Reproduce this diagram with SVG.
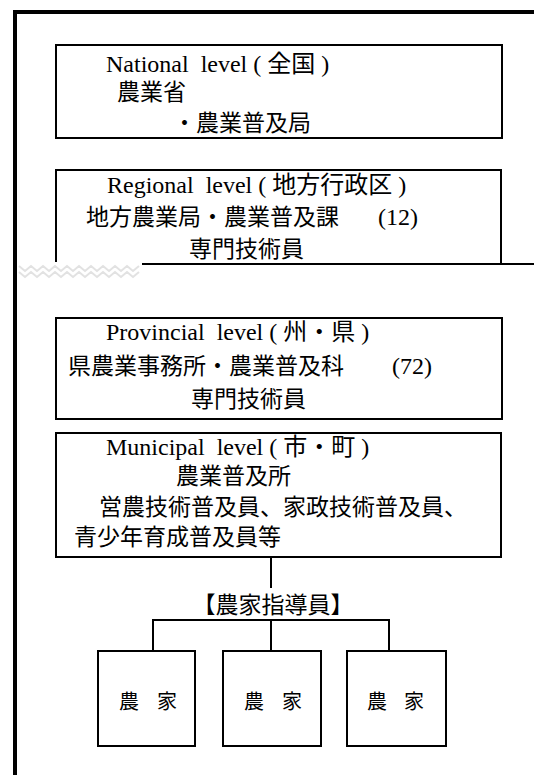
<svg xmlns="http://www.w3.org/2000/svg" width="534" height="775" viewBox="0 0 534 775">
<style>
.frame{stroke:#000;stroke-width:4;fill:none}
.box{stroke:#000;stroke-width:2;fill:#fff}
.conn{stroke:#000;stroke-width:2;fill:none}
.lat{font-family:"Liberation Serif","Noto Sans CJK JP",serif;font-size:24px;fill:#000}
.hc{font-family:"Noto Sans CJK JP",sans-serif;font-size:24px}
.cjk{font-family:"Noto Sans CJK JP",sans-serif;font-size:23px;fill:#000}
.farm{font-family:"Noto Sans CJK JP",sans-serif;font-size:20px;fill:#000}
.tear{stroke:#e2e2e2;stroke-width:2;fill:none}
</style>
<rect width="534" height="775" fill="#fff"/>
<g id="frame">
<line class="frame" x1="13" y1="12" x2="534" y2="12"/>
<line class="frame" x1="15" y1="10" x2="15" y2="775"/>
</g>
<g id="national">
<rect class="box" x="56" y="45" width="446" height="93"/>
<text class="lat" x="106" y="72" xml:space="preserve">National  level ( <tspan class="hc">全国</tspan> )</text>
<text class="cjk" x="117" y="100">農業省</text>
<text class="cjk" x="173" y="131">・農業普及局</text>
</g>
<g id="regional">
<path class="conn" d="M56,262 V170 H501 V264"/>
<line class="conn" x1="142" y1="264" x2="534" y2="264"/>
<path class="tear" d="M19,266 l6,5 l6,-5 l6,5 l6,-5 l6,5 l6,-5 l6,5 l6,-5 l6,5 l6,-5 l6,5 l6,-5 l6,5 l6,-5 l6,5 l6,-5 l6,5 l6,-5 l6,5 l6,-5"/>
<path class="tear" d="M19,272 l6,5 l6,-5 l6,5 l6,-5 l6,5 l6,-5 l6,5 l6,-5 l6,5 l6,-5 l6,5 l6,-5 l6,5 l6,-5 l6,5 l6,-5 l6,5 l6,-5 l6,5 l6,-5"/>
<text class="lat" x="107" y="193" xml:space="preserve">Regional  level ( <tspan class="hc">地方行政区</tspan> )</text>
<text class="cjk" x="86" y="225">地方農業局・農業普及課<tspan class="lat" x="378">(12)</tspan></text>
<text class="cjk" x="189" y="257">専門技術員</text>
</g>
<g id="provincial">
<rect class="box" x="56" y="318" width="446" height="101"/>
<text class="lat" x="106" y="340" xml:space="preserve">Provincial  level ( <tspan class="hc">州・県</tspan> )</text>
<text class="cjk" x="68" y="374">県農業事務所・農業普及科<tspan class="lat" x="392">(72)</tspan></text>
<text class="cjk" x="191" y="407">専門技術員</text>
</g>
<g id="municipal">
<rect class="box" x="56" y="433" width="445" height="124"/>
<text class="lat" x="106" y="455" xml:space="preserve">Municipal  level ( <tspan class="hc">市・町</tspan> )</text>
<text class="cjk" x="176" y="484">農業普及所</text>
<text class="cjk" x="99" y="515">営農技術普及員、家政技術普及員、</text>
<text class="cjk" x="74" y="545">青少年育成普及員等</text>
</g>
<g id="connectors">
<line class="conn" x1="271" y1="557" x2="271" y2="588"/>
<path class="conn" d="M153,651 V620 H389 V651 M271,620 V651"/>
</g>
<g id="label">
<text class="cjk" x="273" y="613" text-anchor="middle">【農家指導員】</text>
</g>
<g id="farm1">
<rect class="box" x="98" y="651" width="97" height="95"/>
<text class="farm" y="709"><tspan x="119">農</tspan> <tspan x="157">家</tspan></text>
</g>
<g id="farm2">
<rect class="box" x="223" y="651" width="98" height="95"/>
<text class="farm" y="709"><tspan x="244">農</tspan> <tspan x="282">家</tspan></text>
</g>
<g id="farm3">
<rect class="box" x="347" y="651" width="99" height="95"/>
<text class="farm" y="709"><tspan x="367">農</tspan> <tspan x="404">家</tspan></text>
</g>
</svg>
